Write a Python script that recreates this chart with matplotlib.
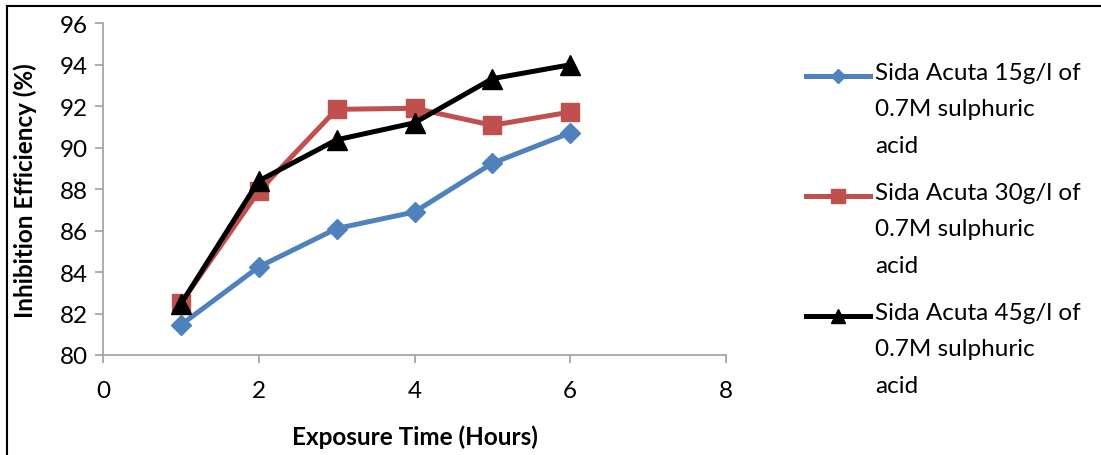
import matplotlib
matplotlib.use("Agg")
import matplotlib.pyplot as plt
from matplotlib.lines import Line2D

plt.rcParams['font.family'] = ['Lato', 'DejaVu Sans']

hours = [1, 2, 3, 4, 5, 6]
ie_15 = [81.45, 84.25, 86.1, 86.9, 89.25, 90.72]
ie_30 = [82.5, 87.9, 91.85, 91.9, 91.08, 91.72]
ie_45 = [82.46, 88.4, 90.38, 91.2, 93.33, 94.0]

labels = ["Sida Acuta 15g/l of\n0.7M sulphuric\nacid",
          "Sida Acuta 30g/l of\n0.7M sulphuric\nacid",
          "Sida Acuta 45g/l of\n0.7M sulphuric\nacid"]
colors = ["#4F81BD", "#C0504D", "#000000"]
markers = ["D", "s", "^"]
msizes = [10, 13, 14]

x_ticks = [0, 2, 4, 6, 8]
y_ticks = [80, 82, 84, 86, 88, 90, 92, 94, 96]

W, H = 1101, 456
fig = plt.figure(figsize=(W / 100, H / 100), dpi=100)
ax = fig.add_axes([103 / W, 1 - 356 / H, (726 - 103) / W, (356 - 24.3) / H])

series = [ie_15, ie_30, ie_45]
for vals, c, m, ms in zip(series, colors, markers, msizes):
    ax.plot(hours, vals, color=c, lw=3.6, marker=m, ms=ms, mfc=c, mec=c,
            solid_joinstyle='round', clip_on=False)

ax.set_xlim(0, 8)
ax.set_ylim(80, 96)
ax.set_xticks(x_ticks)
ax.set_yticks(y_ticks)
for s in ['top', 'right']:
    ax.spines[s].set_visible(False)
for s in ['left', 'bottom']:
    ax.spines[s].set_color('#A0A0A0')
    ax.spines[s].set_linewidth(1.2)
ax.tick_params(axis='both', direction='out', length=6, width=1.2, color='#A0A0A0',
               labelsize=17.5, labelcolor='black')
ax.tick_params(axis='x', pad=12)
ax.tick_params(axis='y', pad=5)
ax.set_xlabel("Exposure Time (Hours)", fontsize=17.5, fontweight='bold', labelpad=17)
ax.set_ylabel("Inhibition Efficiency (%)", fontsize=17.5, fontweight='bold', labelpad=16)

# legend drawn manually (handle aligned with first text line)
entry_y = [77, 197, 317]
for y, c, m, ms, lab in zip(entry_y, colors, markers, msizes, labels):
    fy = 1 - y / H
    fig.add_artist(Line2D([806 / W, 870 / W], [fy, fy], color=c, lw=3.6,
                          transform=fig.transFigure))
    fig.add_artist(Line2D([838 / W], [fy], color=c, marker=m, ms=ms * 0.75, mfc=c, mec=c,
                          transform=fig.transFigure))
    fig.text(875 / W, fy + 14 / H, lab, fontsize=17.5, va='top', ha='left',
             linespacing=1.9)

# border lines (top and left)
fig.add_artist(Line2D([7 / W, 1], [1 - 7 / H, 1 - 7 / H], color='black', lw=1.5,
                      transform=fig.transFigure))
fig.add_artist(Line2D([7 / W, 7 / W], [0, 1 - 7 / H], color='black', lw=1.5,
                      transform=fig.transFigure))

fig.savefig("out.png", dpi=100)
